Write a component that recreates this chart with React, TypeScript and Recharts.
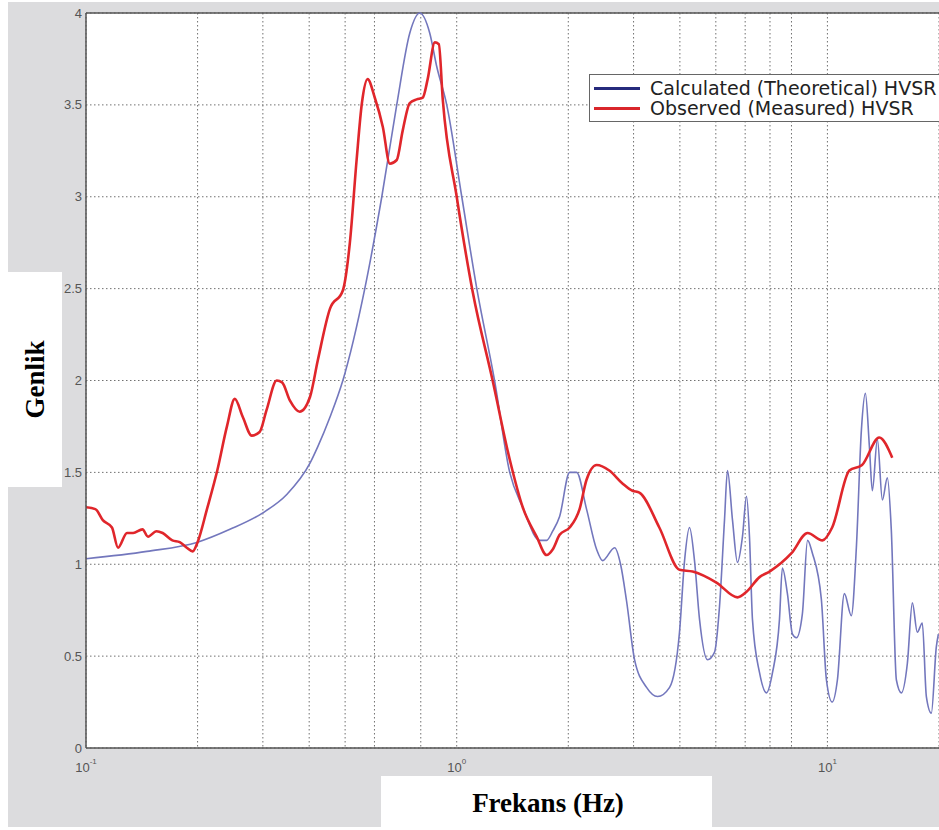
import { CartesianGrid, Legend, Line, LineChart, ReferenceLine, XAxis, YAxis } from "recharts";

// Calculated (Theoretical) HVSR
const calcFreq = [
    0.1, 0.146, 0.2, 0.2445, 0.3, 0.348, 0.402, 0.422, 0.455, 0.493, 0.565, 0.628, 0.689, 0.747, 0.795, 0.846, 0.883,
    0.94, 1.032, 1.133, 1.265, 1.39, 1.507, 1.674, 1.748, 1.815, 1.895, 2.017, 2.106, 2.24, 2.385, 2.475, 2.667,
    2.767, 2.872, 3.019, 3.252, 3.482, 3.752, 3.99, 4.118, 4.246, 4.38, 4.519, 4.749, 4.958, 5.116, 5.277, 5.376,
    5.546, 5.72, 5.9, 6.05, 6.163, 6.278, 6.56, 6.85, 7.11, 7.425, 7.56, 7.8, 8.05, 8.25, 8.56, 8.84, 9.11, 9.63,
    9.94, 10.3, 10.64, 11.11, 11.6, 11.97, 12.35, 12.66, 12.98, 13.22, 13.64, 14.07, 14.51, 14.87, 15.35, 15.83,
    16.43, 16.95, 17.48, 18.03, 18.49, 19.07, 19.67, 19.92,
];
const calcAmp = [
    1.03, 1.07, 1.12, 1.19, 1.28, 1.38, 1.55, 1.64, 1.8, 2.0, 2.5, 3.0, 3.5, 3.89, 4.0, 3.89, 3.71,
    3.5, 3.0, 2.5, 2.0, 1.5, 1.31, 1.13, 1.13, 1.18, 1.26, 1.5, 1.5, 1.3, 1.08, 1.02, 1.09,
    1.0, 0.8, 0.48, 0.33, 0.28, 0.33, 0.63, 1.02, 1.2, 1.02, 0.7, 0.48, 0.52, 0.77, 1.24, 1.51,
    1.24, 1.01, 1.15, 1.37, 1.15, 0.7, 0.41, 0.3, 0.41, 0.7, 0.98, 0.84, 0.62, 0.6, 0.73, 1.13, 1.06, 0.81,
    0.37, 0.25, 0.37, 0.84, 0.72, 1.09, 1.73, 1.93, 1.64, 1.4, 1.68, 1.35, 1.47, 1.19, 0.37, 0.3,
    0.46, 0.79, 0.63, 0.68, 0.28, 0.19, 0.55, 0.62,
];

// Observed (Measured) HVSR
const obsFreq = [
    0.1, 0.106, 0.111, 0.1175, 0.122, 0.129, 0.134, 0.142, 0.147, 0.155, 0.161, 0.171, 0.179, 0.187, 0.194, 0.2,
    0.212, 0.226, 0.24, 0.252, 0.265, 0.28, 0.294, 0.307, 0.327, 0.338, 0.355, 0.377, 0.402, 0.422, 0.455, 0.493,
    0.515, 0.537, 0.555, 0.575, 0.601, 0.632, 0.66, 0.689, 0.715, 0.747, 0.78, 0.81, 0.835, 0.873, 0.895, 0.917,
    1.0, 1.105, 1.25, 1.39, 1.507, 1.643, 1.748, 1.815, 1.895, 2.017, 2.145, 2.24, 2.385, 2.58, 2.8, 2.98,
    3.11, 3.52, 3.99, 4.33, 5.02, 5.72, 6.05, 6.56, 6.98, 8.0, 8.84, 9.7, 10.3, 11.46, 12.4, 13.8, 14.96,
];
const obsAmp = [
    1.31, 1.3, 1.24, 1.2, 1.09, 1.17, 1.17, 1.19, 1.15, 1.18, 1.17, 1.13, 1.12, 1.09, 1.07, 1.12,
    1.3, 1.51, 1.75, 1.9, 1.8, 1.7, 1.72, 1.84, 2.0, 1.99, 1.89, 1.83, 1.91, 2.11, 2.39, 2.49,
    2.75, 3.2, 3.51, 3.64, 3.54, 3.38, 3.18, 3.2, 3.36, 3.51, 3.53, 3.54, 3.64, 3.84, 3.83, 3.53,
    3.0, 2.48, 2.0, 1.57, 1.31, 1.15, 1.05, 1.08, 1.16, 1.2, 1.3, 1.46, 1.54, 1.51, 1.44, 1.4,
    1.39, 1.2, 0.97, 0.96, 0.9, 0.82, 0.85, 0.93, 0.96, 1.06, 1.17, 1.13, 1.2, 1.51, 1.54, 1.69, 1.58,
];

const xTicks = [0.1, 0.2, 0.3, 0.4, 0.5, 0.6, 0.7, 0.8, 0.9, 1, 2, 3, 4, 5, 6, 7, 8, 9, 10];
const yTicks = [0, 0.5, 1, 1.5, 2, 2.5, 3, 3.5, 4];
const decadeExp: Record<string, string> = { "0.1": "-1", "1": "0", "10": "1" };

const seriesNames = ["Calculated (Theoretical) HVSR", "Observed (Measured) HVSR"];
const legendColors = ["#262a7c", "#d9262b"];

const calcData = calcFreq.map((f, i) => ({ f, v: calcAmp[i] }));
const obsData = obsFreq.map((f, i) => ({ f, v: obsAmp[i] }));

const tickFont = "'Liberation Sans', Arial, sans-serif";

function FreqTick({ x, y, payload }: any) {
    const exp = decadeExp[String(payload.value)];
    if (exp === undefined) return <g />;
    return (
        <text x={x} y={y + 24} textAnchor="middle" fill="#555" fontSize={13} fontFamily={tickFont}>
            10
            <tspan dy={-8} fontSize={8}>
                {exp}
            </tspan>
        </text>
    );
}

function HvsrLegend() {
    return (
        <div
            style={{
                border: "1px solid #666",
                background: "#fff",
                padding: "3px 0 3px 4px",
                fontFamily: "'DejaVu Sans', sans-serif",
                fontSize: 19,
                lineHeight: "20px",
                color: "#222",
                whiteSpace: "nowrap",
            }}
        >
            {seriesNames.map((name, i) => (
                <div key={name} style={{ display: "flex", alignItems: "center" }}>
                    <span style={{ display: "inline-block", width: 46, height: 3, background: legendColors[i], marginRight: 10 }} />
                    {name}
                </div>
            ))}
        </div>
    );
}

export default function App() {
    return (
        <div style={{ position: "fixed", left: 0, top: 0, width: 939, height: 830, overflow: "hidden", background: "#fff" }}>
            <div style={{ position: "absolute", left: 8, top: 2, width: 931, height: 825, background: "#dcdcde" }} />
            <div style={{ position: "absolute", left: 0, top: 0 }}>
                <LineChart width={939} height={830} margin={{ top: 13, right: 0, bottom: 0, left: 0 }}>
                    <CartesianGrid fill="#fff" stroke="#707070" strokeDasharray="1.5 2.5" />
                    <XAxis
                        dataKey="f"
                        type="number"
                        scale="log"
                        domain={[0.1, 20]}
                        ticks={xTicks}
                        allowDataOverflow
                        height={82}
                        tickSize={0}
                        tickMargin={0}
                        tick={<FreqTick />}
                        axisLine={{ stroke: "#555", strokeWidth: 1.5 }}
                    />
                    <YAxis
                        type="number"
                        domain={[0, 4]}
                        ticks={yTicks}
                        width={86}
                        tickLine={false}
                        tickSize={2}
                        tickMargin={2}
                        tick={{ fill: "#555", fontSize: 13, fontFamily: tickFont }}
                        axisLine={{ stroke: "#555", strokeWidth: 1.5 }}
                    />
                    <ReferenceLine y={4} stroke="#555" strokeWidth={1.5} />
                    <Legend
                        layout="vertical"
                        align="center"
                        verticalAlign="middle"
                        content={<HvsrLegend />}
                        wrapperStyle={{ left: 589, top: 74, width: 360, bottom: "auto", right: "auto" }}
                    />
                    <Line
                        data={calcData}
                        dataKey="v"
                        name={seriesNames[0]}
                        type="monotone"
                        stroke="#7377bd"
                        strokeWidth={1.6}
                        dot={false}
                        isAnimationActive={false}
                    />
                    <Line
                        data={obsData}
                        dataKey="v"
                        name={seriesNames[1]}
                        type="monotone"
                        stroke="#e0262b"
                        strokeWidth={2.6}
                        dot={false}
                        isAnimationActive={false}
                    />
                </LineChart>
            </div>
            <div
                style={{
                    position: "absolute",
                    left: 8,
                    top: 272,
                    width: 54,
                    height: 215,
                    background: "#fff",
                    display: "flex",
                    alignItems: "center",
                    justifyContent: "center",
                }}
            >
                <span
                    style={{
                        transform: "rotate(-90deg)",
                        fontFamily: "'Liberation Serif', 'Times New Roman', serif",
                        fontWeight: "bold",
                        fontSize: 27,
                        whiteSpace: "nowrap",
                    }}
                >
                    Genlik
                </span>
            </div>
            <div
                style={{
                    position: "absolute",
                    left: 381,
                    top: 776,
                    width: 331,
                    height: 54,
                    background: "#fff",
                    textAlign: "center",
                    fontFamily: "'Liberation Serif', 'Times New Roman', serif",
                    fontWeight: "bold",
                    fontSize: 27,
                    lineHeight: "54px",
                    paddingLeft: 3,
                    boxSizing: "border-box",
                }}
            >
                Frekans (Hz)
            </div>
        </div>
    );
}
